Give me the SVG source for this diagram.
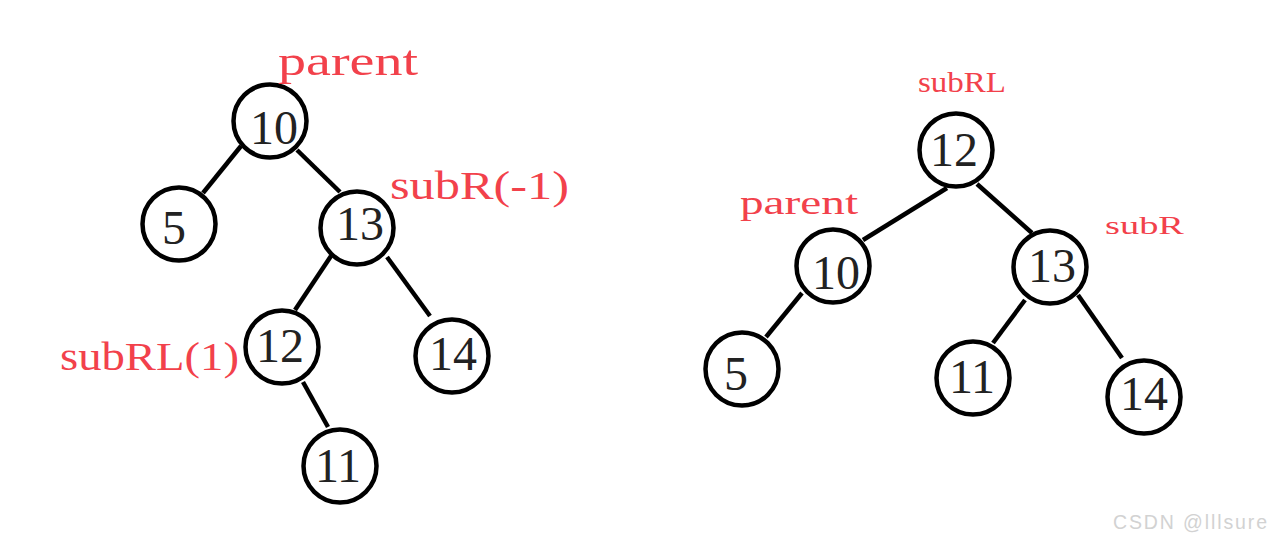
<svg xmlns="http://www.w3.org/2000/svg" width="1271" height="543" viewBox="0 0 1271 543">
<style>
.n circle{fill:#fff;stroke:#000;stroke-width:4.5}
.n text{font-family:"Liberation Serif","DejaVu Serif",serif;font-size:48px;fill:#222;text-anchor:middle}
.lbl{font-family:"Liberation Serif","DejaVu Serif",serif;fill:#f2414b}
#edges line{stroke:#000;stroke-width:4.5;stroke-linecap:butt}
.wm{font-family:"Liberation Sans",Arial,sans-serif;font-size:19.5px;fill:#d2d2d2}
</style>
<rect width="1271" height="543" fill="#fff"/>
<g id="edges">
<line x1="241" y1="146" x2="203" y2="193"/>
<line x1="297" y1="150" x2="340" y2="192"/>
<line x1="331" y1="256" x2="295" y2="310"/>
<line x1="387" y1="257" x2="430" y2="316"/>
<line x1="303" y1="382" x2="328" y2="427"/>
<line x1="947" y1="188" x2="863" y2="240"/>
<line x1="977" y1="184" x2="1032" y2="233"/>
<line x1="802" y1="293" x2="766" y2="337"/>
<line x1="1025" y1="300" x2="993" y2="343"/>
<line x1="1078" y1="295" x2="1122" y2="358"/>
</g>
<g id="L10" class="n"><circle cx="270" cy="121" r="36.5"/><text x="274" y="144">10</text></g>
<g id="L5" class="n"><circle cx="179" cy="224" r="36.5"/><text x="174" y="244">5</text></g>
<g id="L13" class="n"><circle cx="357" cy="228" r="36.5"/><text x="360" y="240">13</text></g>
<g id="L12" class="n"><circle cx="282" cy="347" r="36.5"/><text x="280" y="362">12</text></g>
<g id="L14" class="n"><circle cx="452" cy="356" r="36.5"/><text x="453" y="370">14</text></g>
<g id="L11" class="n"><circle cx="340" cy="466" r="36.5"/><text x="338" y="482">11</text></g>
<g id="R12" class="n"><circle cx="956" cy="150" r="36.5"/><text x="954" y="166">12</text></g>
<g id="R10" class="n"><circle cx="833" cy="266" r="36.5"/><text x="836" y="289">10</text></g>
<g id="R13" class="n"><circle cx="1050" cy="267" r="36.5"/><text x="1052" y="282">13</text></g>
<g id="R5" class="n"><circle cx="742" cy="369" r="36.5"/><text x="736" y="390">5</text></g>
<g id="R11" class="n"><circle cx="973" cy="378" r="36.5"/><text x="972" y="393">11</text></g>
<g id="R14" class="n"><circle cx="1144" cy="397" r="36.5"/><text x="1144" y="410">14</text></g>
<g id="labels">
<text class="lbl" x="278" y="75" font-size="42" textLength="140" lengthAdjust="spacingAndGlyphs">parent</text>
<text class="lbl" x="390" y="199" font-size="41" textLength="179" lengthAdjust="spacingAndGlyphs">subR(-1)</text>
<text class="lbl" x="60" y="370" font-size="41" textLength="179" lengthAdjust="spacingAndGlyphs">subRL(1)</text>
<text class="lbl" x="918" y="92" font-size="29" textLength="88" lengthAdjust="spacingAndGlyphs">subRL</text>
<text class="lbl" x="740" y="214" font-size="34" textLength="118" lengthAdjust="spacingAndGlyphs">parent</text>
<text class="lbl" x="1105" y="234" font-size="26" textLength="79" lengthAdjust="spacingAndGlyphs">subR</text>
</g>
<text class="wm" x="1113" y="529" textLength="154" lengthAdjust="spacing">CSDN @lllsure</text>
</svg>
